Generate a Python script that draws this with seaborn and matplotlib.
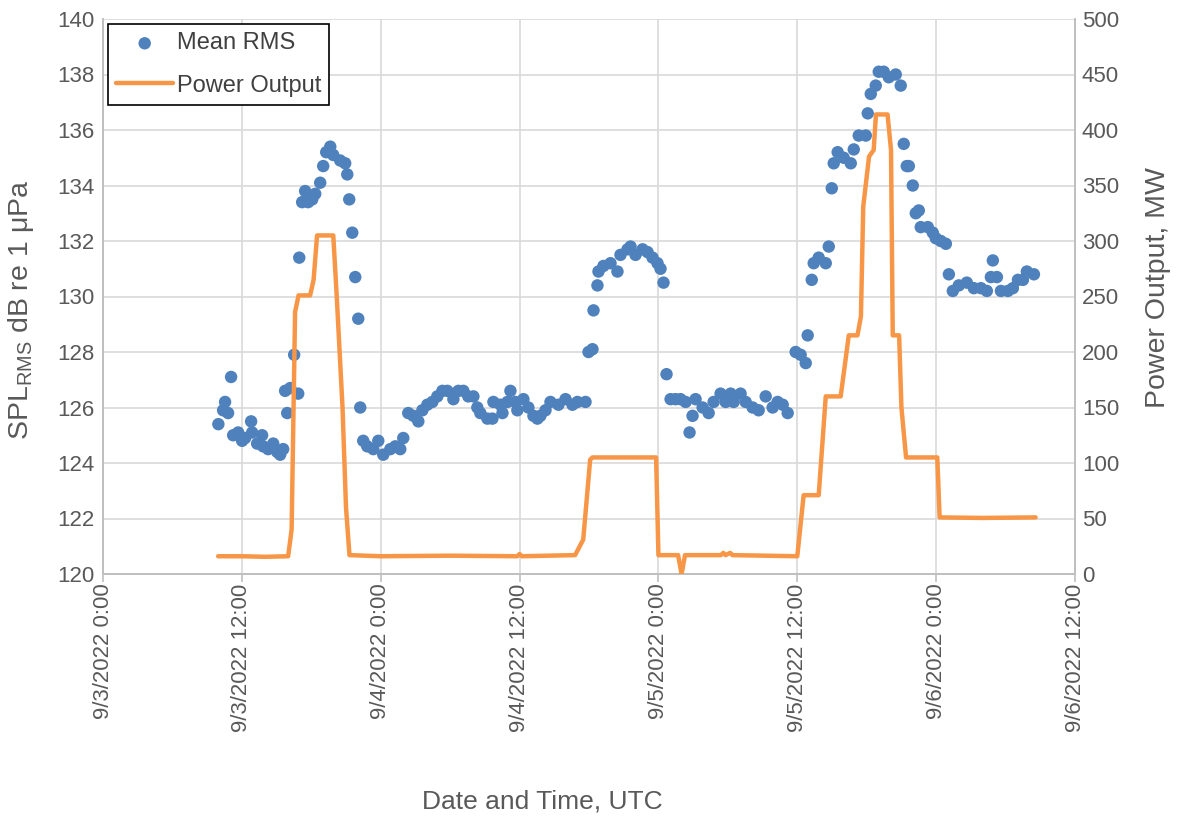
import matplotlib
matplotlib.use("Agg")
import matplotlib.pyplot as plt
import numpy as np
import pandas as pd
import seaborn as sns

# ---- data -------------------------------------------------------------
START = "2022-09-03 00:00"

# Mean RMS sound pressure level (hours after start, dB re 1 uPa)
rms_hours = [
    9.97, 10.38, 10.55, 10.81, 11.07, 11.25, 11.68, 12.02, 12.28, 12.80,
    12.89, 13.32, 13.75, 13.84, 14.27, 14.71, 15.05, 15.31, 15.57, 15.74,
    15.92, 16.18, 16.52, 16.87, 16.96, 17.21, 17.47, 17.73, 18.08, 18.34,
    18.77, 19.03, 19.29, 19.64, 19.90, 20.50, 20.93, 21.11, 21.28, 21.54,
    21.80, 22.06, 22.23, 22.49, 22.84, 23.36, 23.79, 24.22, 24.83, 25.26,
    25.69, 25.95, 26.38, 26.82, 27.25, 27.60, 28.03, 28.46, 28.89, 29.33,
    29.76, 30.28, 30.71, 31.14, 31.57, 32.01, 32.35, 32.61, 33.22, 33.65,
    33.74, 34.34, 34.52, 34.95, 35.21, 35.64, 35.81, 36.33, 36.76, 37.20,
    37.54, 37.80, 38.24, 38.67, 39.36, 39.97, 40.57, 41.00, 41.70, 41.96,
    42.30, 42.39, 42.73, 42.82, 43.25, 43.86, 44.46, 44.72, 45.33, 45.59,
    46.02, 46.63, 47.06, 47.49, 47.92, 48.18, 48.44, 48.70, 49.05, 49.48,
    49.91, 50.35, 50.69, 50.95, 51.21, 51.82, 52.34, 52.77, 53.37, 53.81,
    54.24, 54.50, 55.10, 55.54, 56.14, 56.66, 57.27, 57.87, 58.30, 58.74,
    59.17, 59.86, 60.29, 60.73, 60.90, 61.25, 61.42, 61.85, 62.46, 62.72,
    62.98, 63.15, 63.49, 64.01, 64.62, 64.88, 65.31, 65.92, 66.09, 66.35,
    66.78, 67.04, 67.47, 67.91, 68.51, 68.94, 69.20, 69.46, 69.64, 69.98,
    70.24, 70.50, 70.67, 71.28, 71.71, 71.97, 72.40, 72.84, 73.10, 73.44,
    73.96, 74.65, 75.26, 75.87, 76.38, 76.73, 76.90, 77.25, 77.60, 78.20,
    78.63, 79.07, 79.50, 79.84, 80.45,
]
rms_db = [
    125.4, 125.9, 126.2, 125.8, 127.1, 125.0, 125.1, 124.8, 124.9, 125.5,
    125.1, 124.7, 125.0, 124.6, 124.5, 124.7, 124.4, 124.3, 124.5, 126.6,
    125.8, 126.7, 127.9, 126.5, 131.4, 133.4, 133.8, 133.4, 133.5, 133.7,
    134.1, 134.7, 135.2, 135.4, 135.1, 134.9, 134.8, 134.4, 133.5, 132.3,
    130.7, 129.2, 126.0, 124.8, 124.6, 124.5, 124.8, 124.3, 124.5, 124.6,
    124.5, 124.9, 125.8, 125.7, 125.5, 125.9, 126.1, 126.2, 126.4, 126.6,
    126.6, 126.3, 126.6, 126.6, 126.4, 126.4, 126.0, 125.8, 125.6, 125.6,
    126.2, 126.1, 125.8, 126.2, 126.6, 126.2, 125.9, 126.3, 126.0, 125.7,
    125.6, 125.7, 125.9, 126.2, 126.1, 126.3, 126.1, 126.2, 126.2, 128.0,
    128.1, 129.5, 130.4, 130.9, 131.1, 131.2, 130.9, 131.5, 131.7, 131.8,
    131.5, 131.7, 131.6, 131.4, 131.2, 131.0, 130.5, 127.2, 126.3, 126.3,
    126.3, 126.2, 125.1, 125.7, 126.3, 126.0, 125.8, 126.2, 126.5, 126.2,
    126.5, 126.2, 126.5, 126.2, 126.0, 125.9, 126.4, 126.0, 126.2, 126.1,
    125.8, 128.0, 127.9, 127.6, 128.6, 130.6, 131.2, 131.4, 131.2, 131.8,
    133.9, 134.8, 135.2, 135.0, 134.8, 135.3, 135.8, 135.8, 136.6, 137.3,
    137.6, 138.1, 138.1, 137.9, 138.0, 137.6, 135.5, 134.7, 134.7, 134.0,
    133.0, 133.1, 132.5, 132.5, 132.3, 132.1, 132.0, 131.9, 130.8, 130.2,
    130.4, 130.5, 130.3, 130.3, 130.2, 130.7, 131.3, 130.7, 130.2, 130.2,
    130.3, 130.6, 130.6, 130.9, 130.8,
]

# Generator power output (hours after start, MW)
power_hours = [
    9.95, 12.0, 14.0, 16.0, 16.3, 16.6, 16.9, 17.9, 18.2, 18.5,
    19.9, 20.2, 20.7, 21.0, 21.3, 24.0, 30.0, 35.8, 36.0, 36.2,
    40.8, 41.5, 42.1, 42.3, 47.8, 48.0, 49.7, 50.0, 50.3, 53.4,
    53.6, 53.8, 54.2, 54.4, 60.0, 60.55, 61.85, 62.46, 63.75, 64.45,
    65.2, 65.5, 65.7, 66.2, 66.6, 66.8, 67.8, 68.1, 68.25, 68.8,
    69.0, 69.4, 72.1, 72.3, 76.0, 80.6,
]
power_mw = [
    16, 16, 15.5, 16, 40, 236, 251, 251, 265, 305,
    305, 250, 150, 60, 17, 16, 16.5, 16, 18, 16,
    17, 31, 103, 105, 105, 17, 17, 0, 17, 17,
    19, 17, 19, 17, 16, 71, 71, 160, 160, 215,
    215, 232, 331, 376, 382, 414, 414, 382, 215, 215,
    150, 105, 105, 51, 50.5, 51,
]

x_tick_labels = [
    "9/3/2022 0:00", "9/3/2022 12:00", "9/4/2022 0:00", "9/4/2022 12:00",
    "9/5/2022 0:00", "9/5/2022 12:00", "9/6/2022 0:00", "9/6/2022 12:00",
]
x_tick_hours = [0, 12, 24, 36, 48, 60, 72, 84]

# ---- frames -----------------------------------------------------------
t0 = pd.Timestamp(START)
rms = pd.DataFrame({
    "time": t0 + pd.to_timedelta(rms_hours, unit="h"),
    "spl": rms_db,
})
power = pd.DataFrame({
    "time": t0 + pd.to_timedelta(power_hours, unit="h"),
    "mw": power_mw,
})

# ---- style ------------------------------------------------------------
sns.set_theme(style="white")
plt.rcParams["font.family"] = ["Liberation Sans", "DejaVu Sans"]
plt.rcParams["mathtext.fontset"] = "custom"
plt.rcParams["mathtext.rm"] = "Liberation Sans"

BLUE = "#4F81BD"
ORANGE = "#F79646"
GRID = "#D9D9D9"
AXIS = "#BFBFBF"
TEXT = "#595959"

fig = plt.figure(figsize=(11.78, 8.19), dpi=100)
ax = fig.add_axes([103 / 1178, 1 - 574 / 819, 972 / 1178, 555 / 819])
ax2 = ax.twinx()

sns.scatterplot(data=rms, x="time", y="spl", ax=ax, color=BLUE, s=80,
                edgecolor="none", linewidth=0, label="Mean RMS", legend=False,
                zorder=3)
sns.lineplot(data=power, x="time", y="mw", ax=ax2, color=ORANGE, lw=3.2,
             estimator=None, sort=False, label="Power Output", legend=False,
             zorder=4)

# ---- axes -------------------------------------------------------------
tick_pos = [t0 + pd.Timedelta(hours=h) for h in x_tick_hours]
ax.set_xlim(tick_pos[0], tick_pos[-1])
ax.set_xticks(tick_pos)
ax.set_xticklabels(x_tick_labels, rotation=90, va="top", ha="center")

ax.set_ylim(120, 140)
ax.set_yticks(np.arange(120, 141, 2))
ax2.set_ylim(0, 500)
ax2.set_yticks(np.arange(0, 501, 50))

ax.grid(True, color=GRID, lw=1.2, zorder=0)
ax.set_axisbelow(True)
ax2.grid(False)

for a in (ax, ax2):
    a.spines["top"].set_visible(False)
    for side in ("left", "right", "bottom"):
        a.spines[side].set_color(AXIS)
        a.spines[side].set_linewidth(1.2)

ax.tick_params(axis="x", colors=TEXT, labelsize=16, length=6, width=1.2,
               color=AXIS, pad=1, direction="out", bottom=True)
ax.tick_params(axis="y", colors=TEXT, labelsize=16, length=0, pad=6)
ax2.tick_params(axis="y", colors=TEXT, labelsize=16, length=0, pad=5)

ax.set_xlabel("Date and Time, UTC", fontsize=19, color=TEXT)
ax.xaxis.set_label_coords(0.4517, -0.389)
ax.set_ylabel(r"SPL$_{\mathregular{RMS}}$ dB re 1 μPa", fontsize=20.5,
              color=TEXT)
ax.yaxis.set_label_coords(-0.069, 0.476)
ax2.set_ylabel("Power Output, MW", fontsize=20.5, color=TEXT)
ax2.yaxis.set_label_coords(1.072, 0.517)

# ---- legend -----------------------------------------------------------
h1, l1 = ax.get_legend_handles_labels()
h2, l2 = ax2.get_legend_handles_labels()
leg = ax2.legend(h1 + h2, l1 + l2, loc="upper left",
                 bbox_to_anchor=(0.005, 0.991), fontsize=17, frameon=True,
                 fancybox=False, framealpha=1, edgecolor="black",
                 handlelength=2.4, handletextpad=0.15, borderpad=0.36,
                 labelspacing=0.85, borderaxespad=0)
leg.get_frame().set_linewidth(1.2)
for txt in leg.get_texts():
    txt.set_color("#404040")

fig.savefig("out.png", dpi=100)
